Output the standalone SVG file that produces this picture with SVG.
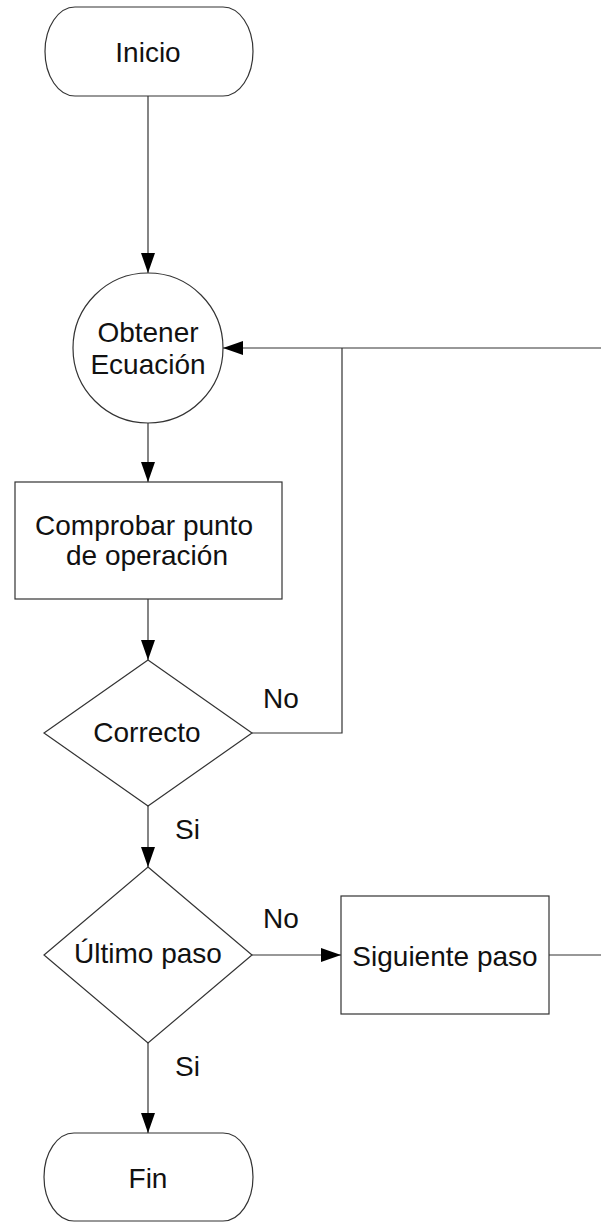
<svg xmlns="http://www.w3.org/2000/svg" width="601" height="1222" viewBox="0 0 601 1222">
  <style>
    .shape { fill: #ffffff; stroke: #333333; stroke-width: 1.2; }
    .edge { fill: none; stroke: #333333; stroke-width: 1.2; }
    .arrow { marker-end: url(#head); }
    text { font-family: "Liberation Sans", Arial, sans-serif; font-size: 28px; fill: #111111; text-anchor: middle; }
    .lbl { text-anchor: start; }
  </style>
  <defs>
    <marker id="head" markerUnits="userSpaceOnUse" markerWidth="20" markerHeight="14" refX="20" refY="7" orient="auto">
      <path d="M0,0 L20,7 L0,14 z" fill="#000000"/>
    </marker>
  </defs>
  <rect width="601" height="1222" fill="#ffffff"/>

  <g id="connectors">
    <line class="edge arrow" x1="148" y1="96" x2="148" y2="273"/>
    <line class="edge arrow" x1="148" y1="423" x2="148" y2="482"/>
    <line class="edge arrow" x1="148" y1="599" x2="148" y2="660"/>
    <line class="edge arrow" x1="601" y1="348" x2="223" y2="348"/>
    <polyline class="edge" points="252,733 342,733 342,348"/>
    <line class="edge arrow" x1="148" y1="806" x2="148" y2="867"/>
    <line class="edge arrow" x1="252" y1="955" x2="341" y2="955"/>
    <line class="edge" x1="549" y1="955" x2="601" y2="955"/>
    <line class="edge arrow" x1="148" y1="1043" x2="148" y2="1133"/>
    <text class="lbl" x="263" y="708">No</text>
    <text class="lbl" x="175" y="839">Si</text>
    <text class="lbl" x="263" y="928">No</text>
    <text class="lbl" x="175" y="1076">Si</text>
  </g>

  <g id="inicio">
    <rect class="shape" x="45" y="7" width="208" height="89" rx="30" ry="44.5"/>
    <text x="148" y="62">Inicio</text>
  </g>

  <g id="obtener-ecuacion">
    <circle class="shape" cx="148" cy="348" r="75"/>
    <text x="148" y="342">Obtener</text>
    <text x="148" y="374">Ecuación</text>
  </g>

  <g id="comprobar">
    <rect class="shape" x="15" y="482" width="267" height="117"/>
    <text x="144" y="535">Comprobar punto</text>
    <text x="147" y="565">de operación</text>
  </g>

  <g id="correcto">
    <polygon class="shape" points="148,660 252,733 148,806 44,733"/>
    <text x="147" y="742">Correcto</text>
  </g>

  <g id="ultimo-paso">
    <polygon class="shape" points="148,867 252,955 148,1043 44,955"/>
    <text x="148" y="963">Último paso</text>
  </g>

  <g id="siguiente-paso">
    <rect class="shape" x="341" y="896" width="208" height="118"/>
    <text x="445" y="966">Siguiente paso</text>
  </g>

  <g id="fin">
    <rect class="shape" x="44" y="1133" width="209" height="88" rx="30" ry="44"/>
    <text x="148" y="1188">Fin</text>
  </g>
</svg>
